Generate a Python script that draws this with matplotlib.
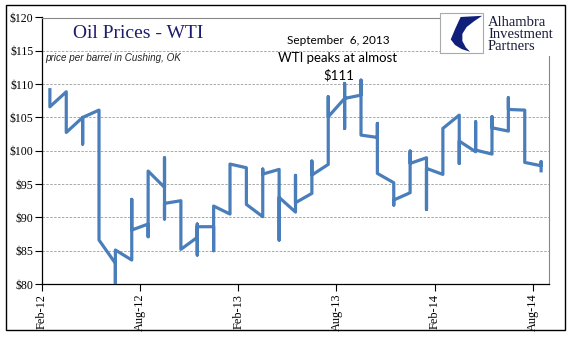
import matplotlib
matplotlib.use("Agg")
import matplotlib.pyplot as plt
from matplotlib.patches import Rectangle, Polygon
import numpy as np

# WTI weekly prices, grouped by month (Feb-12 .. Aug-14)
months = ["Feb-12", "Mar-12", "Apr-12", "May-12", "Jun-12", "Jul-12", "Aug-12", "Sep-12",
          "Oct-12", "Nov-12", "Dec-12", "Jan-13", "Feb-13", "Mar-13", "Apr-13", "May-13",
          "Jun-13", "Jul-13", "Aug-13", "Sep-13", "Oct-13", "Nov-13", "Dec-13", "Jan-14",
          "Feb-14", "Mar-14", "Apr-14", "May-14", "Jun-14", "Jul-14", "Aug-14"]
weekly_prices = [
    [109.4, 106.6],
    [108.85, 102.75],
    [105.0, 101.0, 105.0],
    [106.1, 86.6],
    [83.1, 79.5, 85.1],
    [83.6, 92.7, 88.1],
    [89.0, 87.1, 96.95],
    [94.5, 98.95, 89.75, 92.1],
    [92.5, 85.2],
    [87.0, 89.0, 84.35, 88.6],
    [88.6, 85.0, 91.7],
    [90.5, 98.0],
    [97.45, 91.95],
    [90.1, 97.25, 96.5],
    [97.2, 86.6, 93.0],
    [90.8, 96.3, 92.2],
    [93.6, 98.45, 96.35],
    [97.95, 108.1, 105.1],
    [107.85, 110.1, 103.35, 107.85],
    [108.35, 110.6, 102.35],
    [102.0, 104.1, 96.6],
    [95.2, 91.85, 92.6],
    [93.7, 99.95, 98.1],
    [98.95, 91.2, 97.35],
    [96.45, 103.35],
    [105.35, 98.1, 101.45],
    [99.85, 104.35, 100.1],
    [99.5, 105.1, 103.45],
    [102.95, 107.95, 106.2],
    [106.1, 98.25],
    [97.75, 98.35, 96.75],
]
tick_labels = ["Feb-12", "Aug-12", "Feb-13", "Aug-13", "Feb-14", "Aug-14"]
y_ticks = [80, 85, 90, 95, 100, 105, 110, 115, 120]

x = []
y = []
for i, vals in enumerate(weekly_prices):
    for v in vals:
        x.append(i)
        y.append(v)

W, H = 577, 341
fig = plt.figure(figsize=(W / 100, H / 100), dpi=100)
ax = fig.add_axes([41.7 / W, 1 - 284 / H, (549.3 - 41.7) / W, (284 - 17.5) / H])

ax.plot(x, y, color="#4A7EBB", lw=2.3, solid_joinstyle="round", solid_capstyle="butt", zorder=3)

ax.set_xlim(-0.5, len(months) - 0.5)
ax.set_ylim(80, 120)
ax.set_yticks(y_ticks)
ax.set_yticklabels(["$%d" % v for v in y_ticks], family="Liberation Serif", fontsize=8.5)
xt = [months.index(t) - 0.5 for t in tick_labels]
ax.set_xticks(xt)
ax.set_xticklabels(tick_labels, rotation=90, family="Liberation Serif", fontsize=8.8, va="top")
ax.tick_params(axis="both", direction="out", length=5, width=0.8, colors="black", pad=2)
ax.tick_params(axis="y", pad=1)

for v in y_ticks[1:-1]:
    ax.axhline(v, color="#A8A8A8", lw=0.7, ls=(0, (2.5, 1.5)), zorder=1)
for s in ["left", "bottom"]:
    ax.spines[s].set_color("black")
    ax.spines[s].set_linewidth(0.9)
for s in ["top", "right"]:
    ax.spines[s].set_color("#888888")
    ax.spines[s].set_linewidth(0.8)

# titles and notes
fig.text(73 / W, 1 - 33 / H, "Oil Prices - WTI", family="Liberation Serif", fontsize=14,
         color="#1C1C6E", va="center", ha="left")
fig.text(45 / W, 1 - 58 / H, "price per barrel in Cushing, OK", family="Liberation Sans", style="italic",
         fontsize=7.1, color="#222222", va="center", ha="left")
fig.text(338 / W, 1 - 40 / H, "September  6, 2013", family="Lato", fontsize=8.5,
         color="black", va="center", ha="center")
fig.text(338 / W, 1 - 57.5 / H, "WTI peaks at almost", family="Lato", fontsize=9.5,
         color="black", va="center", ha="center")
fig.text(339 / W, 1 - 75 / H, "$111", family="Lato", fontsize=9.5,
         color="black", va="center", ha="center")

# logo area
fig.add_artist(Rectangle((440 / W, 1 - 56 / H), (566 - 440) / W, 51 / H,
                         transform=fig.transFigure, facecolor="white", edgecolor="none", zorder=5))
bx0, by0, bw, bh = 440, 13, 43, 40
fig.add_artist(Rectangle((bx0 / W, 1 - (by0 + bh) / H), bw / W, bh / H, transform=fig.transFigure,
                         facecolor="white", edgecolor="#AAAAAA", lw=0.8, zorder=6))
shape = [(0.48, 0.90), (0.98, 0.93), (0.80, 0.80), (0.62, 0.65), (0.52, 0.48), (0.52, 0.30),
         (0.60, 0.14), (0.70, 0.03), (0.50, 0.10), (0.35, 0.20), (0.25, 0.34), (0.36, 0.62)]
pts = [((bx0 + px * bw) / W, 1 - (by0 + (1 - py) * bh) / H) for px, py in shape]
fig.add_artist(Polygon(pts, closed=True, transform=fig.transFigure, facecolor="#0F1F7A",
                       edgecolor="none", zorder=7))
for i, t in enumerate(["Alhambra", "Investment", "Partners"]):
    fig.text(488 / W, 1 - (22.5 + 12 * i) / H, t, family="Liberation Serif", fontsize=10.5,
             color="#1A1A3A", va="center", ha="left", zorder=8)

# outer border
fig.add_artist(Rectangle((6 / W, 1 - 330 / H), (565 - 6) / W, (330 - 5) / H, transform=fig.transFigure,
                         facecolor="none", edgecolor="black", lw=1.0, zorder=9))

fig.savefig("out.png", dpi=100)
